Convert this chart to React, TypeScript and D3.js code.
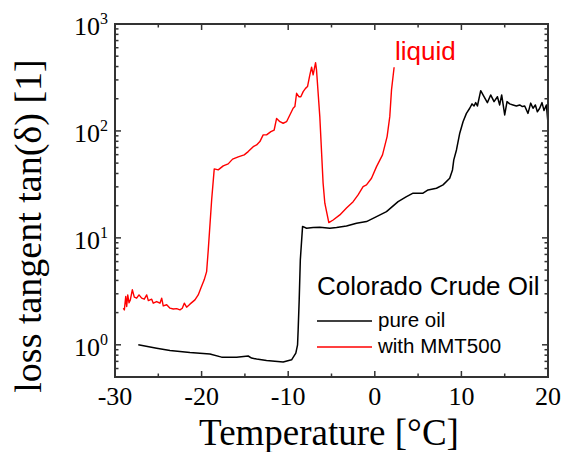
import React from "react";
import * as d3 from "d3";

// pure oil: [temperature °C, tan δ]
const pureOilT = [-27.31,-25.19,-23.65,-21.35,-19.04,-17.69,-15.96,-14.62,-14.23,-13.65,-12.5,-10.58,-9.61,-9.12,-8.92,-8.85,-8.73,-8.6,-8.34,-7.88,-7.12,-6.35,-5.19,-4.42,-3.27,-2.11,-0.96,0.2,1.35,2.69,3.66,4.42,5.57,6.15,7.12,7.88,8.65,8.97,9.12,9.43,9.81,10.19,10.58,10.96,11.23,11.46,11.65,11.85,12.23,12.61,13.0,13.38,13.77,14.16,14.42,14.65,15.0,15.27,15.58,15.96,16.35,16.73,17.04,17.31,17.69,18.0,18.27,18.54,18.77,19.04,19.31,19.54,19.81,20.0];
const pureOilV = [1.0,0.93,0.885,0.847,0.819,0.767,0.764,0.786,0.751,0.735,0.713,0.69,0.724,0.836,1.0,1.38,2.63,6.23,12.8,12.3,12.5,12.6,12.3,12.5,12.9,13.7,14.2,15.8,17.6,21.8,24.3,26.2,26.2,28.1,29.1,31.3,36.1,43.2,53.6,66.4,95.2,122,146,163,179,171,184,171,238,209,184,217,188,209,175,217,141,188,179,175,171,175,169,171,146,182,163,175,151,163,184,155,175,118];

// with MMT500
const mmtT = [-29.04,-28.92,-28.76,-28.65,-28.53,-28.38,-28.23,-28.0,-27.77,-27.5,-27.23,-26.92,-26.62,-26.34,-26.15,-25.76,-25.58,-25.19,-24.81,-24.61,-24.43,-24.03,-23.65,-23.27,-22.88,-22.5,-22.23,-22.0,-21.73,-21.35,-20.77,-20.39,-20.08,-19.7,-19.42,-19.23,-18.84,-18.54,-18.08,-17.5,-16.93,-16.42,-15.77,-15.08,-14.62,-14.04,-13.65,-13.27,-12.89,-12.5,-12.0,-11.62,-11.34,-10.96,-10.58,-10.19,-9.81,-9.43,-9.23,-9.03,-8.77,-8.54,-8.27,-8.0,-7.77,-7.5,-7.3,-7.12,-6.84,-6.73,-6.35,-5.97,-5.77,-5.31,-4.81,-4.04,-3.27,-2.5,-1.93,-1.35,-0.96,-0.38,0.2,0.89,1.42,1.73,1.93,2.23];
const mmtV = [2.2,2.12,2.83,2.28,2.93,2.47,2.63,3.27,2.79,2.73,2.93,2.73,2.67,2.93,2.59,2.67,2.45,2.54,2.45,2.73,2.31,2.37,2.2,2.16,2.18,2.12,2.2,2.45,2.25,2.4,2.63,2.93,3.39,4.05,4.84,7.73,22.6,44.2,43.2,47.1,49.2,54.5,57.2,59.7,64.1,71.3,74.0,79.5,91.8,91.8,98.5,102,131,122,118,122,141,163,169,225,209,209,233,250,260,334,394,334,435,372,136,32.5,21.1,13.9,14.7,16.4,19.0,21.8,25.2,30.1,31.3,36.1,46.4,59.7,88.5,136,242,394];

const xTicks = [-30, -20, -10, 0, 10, 20];
const xMinorTicks = [-25, -15, -5, 5, 15];
const yExponents = [0, 1, 2, 3];

const seriesNames = ["pure oil", "with MMT500"];
const legendTitle = "Colorado Crude Oil";
const annotation = "liquid";
const xTitle = "Temperature [°C]";
const yTitle = "loss tangent tan(δ) [1]";

export default function App() {
  const W = 570, H = 452;
  const left = 115, right = 548, top = 24, bottom = 377;
  const x = d3.scaleLinear().domain([-30, 20]).range([left, right]);
  const y = d3.scaleLog().domain([0.5, 1000]).range([bottom, top]);

  const line = d3.line<[number, number]>().x(d => x(d[0])).y(d => y(d[1]));
  const pure: [number, number][] = pureOilT.map((t, i) => [t, pureOilV[i]]);
  const mmt: [number, number][] = mmtT.map((t, i) => [t, mmtV[i]]);

  const minorY: number[] = [];
  for (let e = -1; e <= 2; e++) {
    for (let m = 2; m <= 9; m++) {
      const v = m * Math.pow(10, e);
      if (v >= 0.5 && v <= 1000) minorY.push(v);
    }
  }

  const axisColor = "#333";
  const serif = "'Liberation Serif', 'Times New Roman', serif";
  const sans = "'Liberation Sans', Arial, sans-serif";
  const majL = 6, minL = 3.5;

  return (
    <svg width={W} height={H} style={{ position: "absolute", left: 0, top: 0, background: "#fff" }}>
      <rect x={0} y={0} width={W} height={H} fill="#fff" />
      {/* data */}
      <path d={line(pure) || ""} fill="none" stroke="#000" strokeWidth={1.5} strokeLinejoin="round" />
      <path d={line(mmt) || ""} fill="none" stroke="#ff0000" strokeWidth={1.4} strokeLinejoin="round" />

      {/* ticks */}
      <g stroke={axisColor} strokeWidth={1.5}>
        {xTicks.map(t => (
          <g key={"xt" + t}>
            <line x1={x(t)} x2={x(t)} y1={bottom} y2={bottom - majL} />
            <line x1={x(t)} x2={x(t)} y1={top} y2={top + majL} />
          </g>
        ))}
        {xMinorTicks.map(t => (
          <g key={"xm" + t}>
            <line x1={x(t)} x2={x(t)} y1={bottom} y2={bottom - minL} />
            <line x1={x(t)} x2={x(t)} y1={top} y2={top + minL} />
          </g>
        ))}
        {yExponents.map(e => (
          <g key={"ye" + e}>
            <line x1={left} x2={left + majL} y1={y(Math.pow(10, e))} y2={y(Math.pow(10, e))} />
            <line x1={right} x2={right - majL} y1={y(Math.pow(10, e))} y2={y(Math.pow(10, e))} />
          </g>
        ))}
        {minorY.map(v => (
          <g key={"ym" + v}>
            <line x1={left} x2={left + minL} y1={y(v)} y2={y(v)} />
            <line x1={right} x2={right - minL} y1={y(v)} y2={y(v)} />
          </g>
        ))}
      </g>
      <rect x={left} y={top} width={right - left} height={bottom - top} fill="none" stroke={axisColor} strokeWidth={2} />

      {/* tick labels */}
      {xTicks.map(t => (
        <text key={"xl" + t} x={x(t)} y={405} textAnchor="middle" fontFamily={serif} fontSize={26} fill="#000">
          {t}
        </text>
      ))}
      {yExponents.map(e => (
        <g key={"yl" + e}>
          <text x={100} y={y(Math.pow(10, e)) + 11} textAnchor="end" fontFamily={serif} fontSize={26} fill="#000">10</text>
          <text x={100} y={y(Math.pow(10, e))} textAnchor="start" fontFamily={serif} fontSize={16} fill="#000">{e}</text>
        </g>
      ))}

      {/* axis titles */}
      <text x={329} y={445} textAnchor="middle" fontFamily={serif} fontSize={37} fill="#000">{xTitle}</text>
      <text transform={`translate(41,226) rotate(-90)`} textAnchor="middle" fontFamily={serif} fontSize={38} fill="#000">{yTitle}</text>

      {/* annotation */}
      <text x={395} y={60} fontFamily={sans} fontSize={26} fill="#ff0000">{annotation}</text>

      {/* legend */}
      <text x={317} y={295} fontFamily={sans} fontSize={26} fill="#000">{legendTitle}</text>
      <line x1={317} x2={372} y1={321} y2={321} stroke="#000" strokeWidth={1.5} />
      <text x={378} y={327} fontFamily={sans} fontSize={20.5} fill="#000">{seriesNames[0]}</text>
      <line x1={317} x2={372} y1={347} y2={347} stroke="#ff0000" strokeWidth={1.5} />
      <text x={378} y={353} fontFamily={sans} fontSize={20.5} fill="#000">{seriesNames[1]}</text>
    </svg>
  );
}
